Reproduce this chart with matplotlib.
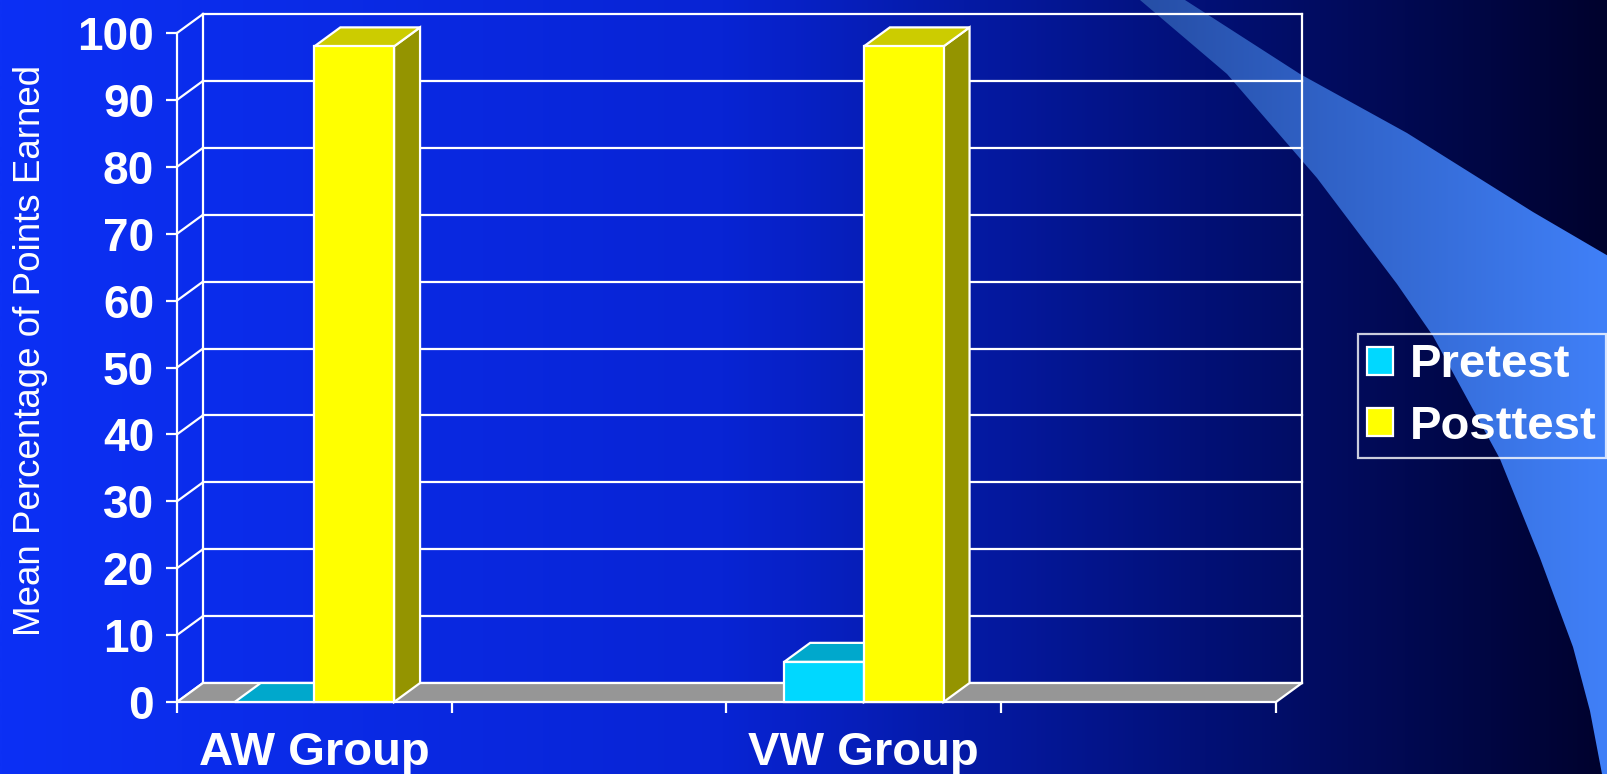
import numpy as np
import matplotlib.pyplot as plt
from matplotlib.patches import Polygon, Patch
from matplotlib.colors import to_rgb

plt.rcParams['font.family'] = ['Liberation Sans', 'DejaVu Sans']

# chart values
groups = ['AW Group', 'VW Group']
series = ['Pretest', 'Posttest']
pretest = [0, 6]
posttest = [98, 98]
yticks = list(range(0, 101, 10))

W, H = 1608, 774
front_col = {'Pretest': '#00d8ff', 'Posttest': '#ffff00'}
top_col = {'Pretest': '#00a8cc', 'Posttest': '#cccc00'}
side_col = {'Pretest': '#0086a3', 'Posttest': '#949400'}
floor_col = '#969696'
lw = 1.6

fig = plt.figure(figsize=(W / 100, H / 100), dpi=100)

# slide background: horizontal blue gradient plus the light swoosh
bg = fig.add_axes([0, 0, 1, 1])
bg.axis('off')
stops = [(0.0, (12, 48, 245)), (0.45, (8, 36, 212)), (0.75, (2, 16, 118)), (1.0, (0, 2, 45))]
xs = np.linspace(0, 1, 400)
grad = np.zeros((1, 400, 3))
for c in range(3):
    grad[0, :, c] = np.interp(xs, [s[0] for s in stops], [s[1][c] / 255 for s in stops])
bg.imshow(grad, extent=(0, W, H, 0), aspect='auto', interpolation='bilinear')

swoosh = [(1140, 0), (1227, 74), (1317, 178), (1397, 284), (1433, 336), (1500, 459),
          (1540, 558), (1573, 647), (1590, 711), (1602, 774), (W + 2, 774), (W + 2, 257),
          (1533, 212), (1407, 133), (1300, 74), (1185, 0)]
sw_patch = Polygon(swoosh, closed=True, facecolor='none', edgecolor='none')
bg.add_patch(sw_patch)
c0, c1 = np.array(to_rgb('#264ea6')), np.array(to_rgb('#4080f8'))
sw_grad = (c0[None, None, :] + (c1 - c0)[None, None, :] * np.linspace(0, 1, 200)[None, :, None])
sw_img = bg.imshow(sw_grad, extent=(1140, W, H, 0), aspect='auto', interpolation='bilinear')
sw_img.set_clip_path(sw_patch)
bg.set_xlim(0, W)
bg.set_ylim(H, 0)

# main chart: x in category slots (4 of them), y in percent
ax = fig.add_axes([177 / W, (H - 702) / H, 1099 / W, 669 / H])
ax.patch.set_visible(False)
for s in ax.spines.values():
    s.set_visible(False)
nslots = 4
ax.set_xlim(0, nslots)
ax.set_ylim(0, 100)
dx, dy = 26 / 1099 * nslots, 19 / 669 * 100

# walls: back-wall gridlines and the left-wall diagonals
for v in yticks:
    ax.plot([dx, nslots + dx], [v + dy, v + dy], color='white', lw=lw, zorder=1, clip_on=False)
    ax.plot([0, dx], [v, v + dy], color='white', lw=lw, zorder=1, clip_on=False)
ax.plot([dx, dx], [dy, 100 + dy], color='white', lw=lw, zorder=1, clip_on=False)
ax.plot([nslots + dx, nslots + dx], [dy, 100 + dy], color='white', lw=lw, zorder=1, clip_on=False)
ax.plot([0, 0], [0, 100], color='white', lw=lw, zorder=1, clip_on=False)

floor = Polygon([(0, 0), (nslots, 0), (nslots + dx, dy), (dx, dy)], closed=True,
                facecolor=floor_col, edgecolor='white', lw=lw, zorder=2, clip_on=False)
ax.add_patch(floor)

# 3d-looking bars: front face via ax.bar, top and side faces as polygons
bw = 0.29
z = 3
for i, g in enumerate(groups):
    center = 0.5 + 2 * i
    for j, (name, vals) in enumerate(zip(series, [pretest, posttest])):
        v = vals[i]
        x0 = center - bw + j * bw
        top = Polygon([(x0, v), (x0 + bw, v), (x0 + bw + dx, v + dy), (x0 + dx, v + dy)],
                      closed=True, facecolor=top_col[name], edgecolor='white', lw=lw,
                      zorder=z, clip_on=False, joinstyle='miter')
        side = Polygon([(x0 + bw, 0), (x0 + bw + dx, dy), (x0 + bw + dx, v + dy), (x0 + bw, v)],
                       closed=True, facecolor=side_col[name], edgecolor='white', lw=lw,
                       zorder=z, clip_on=False, joinstyle='miter')
        ax.add_patch(side)
        ax.add_patch(top)
        if v > 0:
            ax.bar(x0, v, width=bw, align='edge', color=front_col[name], edgecolor='white',
                   lw=lw, zorder=z + 0.5, clip_on=False)
        z += 1

# axes ticks and labels
ax.set_yticks(yticks)
ax.set_yticklabels([str(t) for t in yticks], fontweight='bold')
ax.tick_params(axis='y', length=8, width=lw, color='white', pad=8.5,
               labelsize=33, labelcolor='white')
ax.set_xticks(range(nslots + 1))
ax.set_xticklabels([])
ax.set_xticks([0.5 + 2 * i for i in range(len(groups))], minor=True)
ax.set_xticklabels(groups, minor=True, fontweight='bold')
ax.tick_params(axis='x', which='major', length=8, width=lw, color='white')
ax.tick_params(axis='x', which='minor', length=0, pad=21, labelsize=34, labelcolor='white')

fig.text(31 / W, 1 - 350 / H, 'Mean Percentage of Points Earned', rotation=90,
         ha='center', va='center', color='white', fontsize=26.5)

handles = [Patch(facecolor=front_col[s], edgecolor='white', lw=lw) for s in series]
leg = fig.legend(handles, series, loc='upper left', bbox_to_anchor=(1358 / W, 1 - 334 / H),
                 borderaxespad=0, fancybox=False, frameon=True, facecolor='none',
                 edgecolor='white', labelcolor='white', handlelength=0.54, handleheight=0.54,
                 handletextpad=0.36, borderpad=0.2, labelspacing=0.37,
                 prop={'size': 34, 'weight': 'bold'})
leg.get_frame().set_linewidth(lw)

fig.savefig('out.png', dpi=100)
